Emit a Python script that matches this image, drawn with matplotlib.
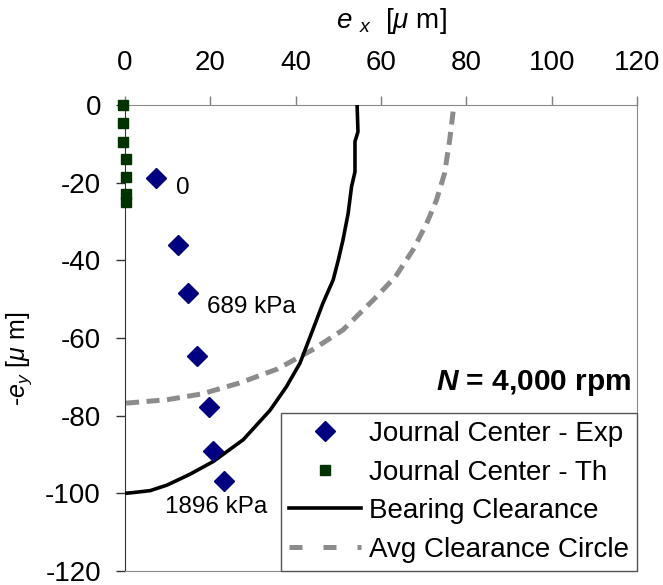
import matplotlib
matplotlib.use("Agg")
import matplotlib.pyplot as plt
from matplotlib.lines import Line2D

plt.rcParams['font.family'] = ['Liberation Sans', 'DejaVu Sans']
plt.rcParams['mathtext.fontset'] = 'custom'
plt.rcParams['mathtext.rm'] = 'Liberation Sans'
plt.rcParams['mathtext.it'] = 'Liberation Sans:italic'
plt.rcParams['mathtext.bf'] = 'Liberation Sans:bold'
plt.rcParams['mathtext.bfit'] = 'Liberation Sans:bold:italic'
plt.rcParams['axes.unicode_minus'] = False

# Journal center - experimental
exp_x = [7.2, 12.5, 14.7, 16.9, 19.7, 20.7, 23.2]
exp_y = [-18.8, -36.0, -48.3, -64.6, -77.8, -89.2, -96.8]

# Journal center - theory
th_x = [-0.4, -0.4, -0.4, 0.2, 0.2, 0.3, 0.3]
th_y = [0.0, -4.6, -9.5, -14.0, -18.5, -22.8, -24.9]

# Bearing clearance
bc_x = [54.4, 54.6, 53.9, 53.9, 53.1, 52.3, 51.1, 50.0, 48.8, 46.4, 43.7, 41.0, 37.8, 34.0, 27.7, 20.7, 15.2, 9.8, 5.9, 2.0, 0.0]
bc_y = [0.0, -6.9, -9.4, -17.2, -21.0, -27.9, -34.7, -39.9, -45.0, -51.0, -58.8, -66.5, -72.6, -78.6, -86.2, -91.8, -95.1, -97.9, -99.3, -99.8, -100.0]

# Average clearance circle
ac_x = [76.9, 76.1, 74.9, 73.0, 70.7, 67.5, 63.4, 58.2, 51.1, 44.0, 35.7, 26.8, 18.0, 9.8, 0.0]
ac_y = [-1.7, -9.0, -17.6, -24.5, -30.5, -37.3, -44.2, -50.2, -57.9, -63.0, -68.0, -71.6, -74.4, -75.9, -76.8]

x_ticks = [0, 20, 40, 60, 80, 100, 120]
y_ticks = [0, -20, -40, -60, -80, -100, -120]

fig = plt.figure(figsize=(6.63, 5.85), dpi=100)
ax = fig.add_axes([125/663, 1-571/585, (637-125)/663, (571-105)/585])

gray = '#8c8c8c'
ax.plot(ac_x, ac_y, color=gray, lw=3.6, dashes=(2.6, 1.5), zorder=2)
ax.plot(bc_x, bc_y, color='black', lw=2.6, zorder=3)
ax.plot(exp_x, exp_y, ls='none', marker='D', ms=10.5, color='#000080', zorder=4)
ax.plot(th_x, th_y, ls='none', marker='s', ms=7.5, color='#003300', zorder=5, clip_on=False)

ax.set_xlim(0, 120)
ax.set_ylim(-120, 0)
ax.set_xticks(x_ticks)
ax.set_yticks(y_ticks)
ax.xaxis.tick_top()
ax.xaxis.set_label_position('top')
ax.tick_params(axis='both', direction='out', length=6.8, width=1, labelsize=20, labelcolor='black')
ax.tick_params(axis='x', pad=14, colors='#7f7f7f', labelcolor='black')
ax.tick_params(axis='y', pad=10.5, colors='#333333', labelcolor='black')

for s in ['top', 'right', 'bottom']:
    ax.spines[s].set_color('#8a8a8a')
ax.spines['left'].set_color('#333333')

ax.set_xlabel(r'$e$ $_x$  [$\mu$ m]', fontsize=20)
ax.xaxis.set_label_coords(0.52, 1.165)
ax.set_ylabel(r'-$e$$_y$ [$\mu$ m]', fontsize=18)
ax.yaxis.set_label_coords(-0.178, 0.455)

ax.text(13.6, -21.4, '0', fontsize=17.5, va='center', ha='center')
ax.text(19.3, -51.9, '689 kPa', fontsize=17.5, va='center', ha='left')
ax.text(9.4, -103.4, '1896 kPa', fontsize=17.5, va='center', ha='left')
ax.text(118.7, -71.6, r'$\boldsymbol{N}$ = 4,000 rpm', fontsize=21.5, fontweight='bold', va='center', ha='right')

handles = [
    Line2D([], [], ls='none', marker='D', ms=10.5, color='#000080'),
    Line2D([], [], ls='none', marker='s', ms=6.5, color='#003300'),
    Line2D([], [], color='black', lw=2.6),
    Line2D([], [], color=gray, lw=3.6, dashes=(2.6, 4.2)),
]
labels = ['Journal Center - Exp', 'Journal Center - Th', 'Bearing Clearance', 'Avg Clearance Circle']
leg = ax.legend(handles, labels,
                loc='lower right', bbox_to_anchor=(1, 0), borderaxespad=0,
                fontsize=20, fancybox=False, framealpha=1, handlelength=2.6,
                handletextpad=0.27, labelspacing=0.45, borderpad=0.3)
leg.get_frame().set_edgecolor('#555555')
leg.get_frame().set_linewidth(1)

fig.savefig('out.png', dpi=100)
